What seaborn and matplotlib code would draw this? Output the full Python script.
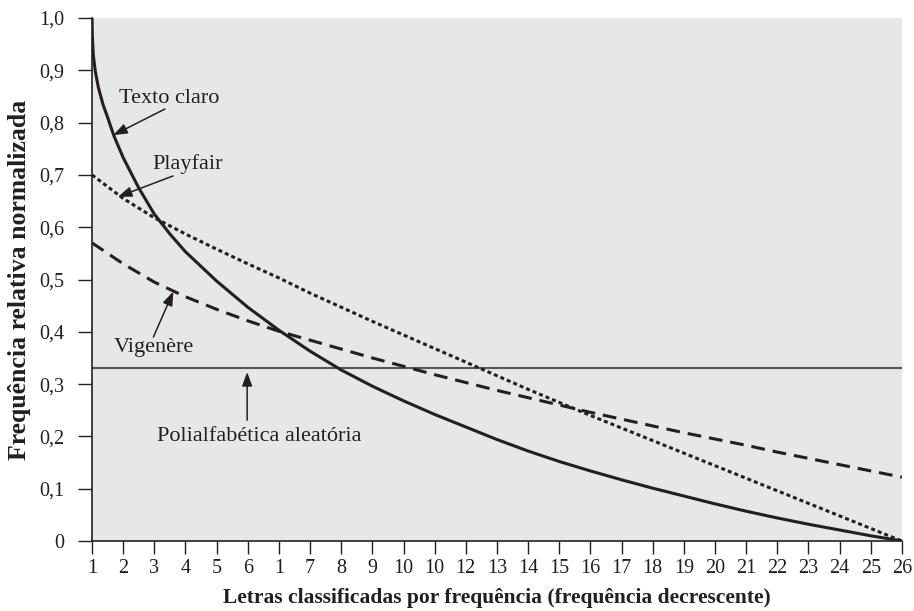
import matplotlib
matplotlib.use("Agg")
import matplotlib.pyplot as plt
import seaborn as sns

# tick slots along the x axis (labels copied as printed, typos included)
tick_labels = ["1", "2", "3", "4", "5", "6", "1", "7", "8", "9", "10", "10",
               "12", "13", "14", "15", "16", "17", "18", "19", "20", "21",
               "22", "23", "24", "25", "26"]
tick_pos = list(range(len(tick_labels)))

# Texto claro (solid) - extra points near the start where it falls steeply
plain_x = [0, 0.01, 0.04, 0.1, 0.2, 0.35, 0.5, 0.7, 1, 1.5, 2, 2.5, 3, 4, 5,
           6, 7, 8, 9, 10, 11, 12, 13, 14, 15, 16, 17, 18, 19, 20, 21, 22,
           23, 24, 25, 26]
plain_y = [1.0, 0.965, 0.93, 0.9, 0.868, 0.835, 0.81, 0.775, 0.733, 0.675,
           0.625, 0.587, 0.553, 0.497, 0.447, 0.403, 0.363, 0.327, 0.296,
           0.268, 0.242, 0.218, 0.194, 0.172, 0.152, 0.134, 0.117, 0.101,
           0.086, 0.071, 0.057, 0.044, 0.032, 0.021, 0.01, 0.0]

# Playfair (dotted)
playfair_y = [0.70, 0.655, 0.618, 0.587, 0.558, 0.530, 0.503, 0.474, 0.447,
              0.42, 0.394, 0.368, 0.342, 0.316, 0.29, 0.265, 0.24, 0.216,
              0.192, 0.168, 0.144, 0.12, 0.096, 0.072, 0.048, 0.024, 0.0]

# Vigenère (dashed)
vigenere_y = [0.57, 0.53, 0.495, 0.467, 0.443, 0.421, 0.401, 0.384, 0.367,
              0.35, 0.334, 0.318, 0.303, 0.288, 0.274, 0.26, 0.246, 0.233,
              0.22, 0.207, 0.195, 0.183, 0.17, 0.158, 0.146, 0.134, 0.122]

# Polialfabética aleatória (flat line)
random_level = 0.33

y_ticks = [0, 0.1, 0.2, 0.3, 0.4, 0.5, 0.6, 0.7, 0.8, 0.9, 1.0]
y_tick_labels = ["0", "0,1", "0,2", "0,3", "0,4", "0,5", "0,6", "0,7",
                 "0,8", "0,9", "1,0"]

ink = "#231f20"

sns.set_theme(style="ticks")
plt.rcParams["font.family"] = ["Liberation Serif", "DejaVu Serif"]

fig = plt.figure(figsize=(9.14, 6.11), dpi=100)
ax = fig.add_axes([0.1007, 0.1146, 0.886, 0.8559])
ax.set_facecolor("#e6e7e8")

ax.axhline(random_level, color="#58585a", lw=1.5, zorder=1)
sns.lineplot(x=plain_x, y=plain_y, ax=ax, color=ink, lw=2.2, zorder=3)
sns.lineplot(x=tick_pos, y=playfair_y, ax=ax, color=ink, lw=2.2,
             linestyle=(0, (1.3, 1.0)), zorder=3)
sns.lineplot(x=tick_pos, y=vigenere_y, ax=ax, color=ink, lw=2.2,
             linestyle=(0, (4.5, 2.6)), zorder=3)

ax.set_xlim(0, 26)
ax.set_ylim(0, 1.0)
ax.set_xticks(tick_pos)
ax.set_xticklabels(tick_labels)
ax.set_yticks(y_ticks)
ax.set_yticklabels(y_tick_labels)
ax.tick_params(axis="x", direction="out", length=9, width=1, color=ink,
               labelsize=14.5, pad=4, labelcolor=ink)
ax.tick_params(axis="y", direction="out", length=10, width=1, color=ink,
               labelsize=14.5, pad=10, labelcolor=ink)

for side in ["top", "right"]:
    ax.spines[side].set_visible(False)
for side in ["left", "bottom"]:
    ax.spines[side].set_color(ink)
    ax.spines[side].set_linewidth(1.2)

ax.set_xlabel("Letras classificadas por frequência (frequência decrescente)",
              fontsize=15.5, fontweight="bold", color=ink, labelpad=7)
ax.set_ylabel("Frequência relativa normalizada",
              fontsize=18.5, fontweight="bold", color=ink, labelpad=6)

arrow = dict(arrowstyle="-|>,head_length=0.6,head_width=0.22", color=ink,
             lw=1.1, mutation_scale=14, shrinkA=0, shrinkB=0)
note = dict(ha="center", va="center", fontsize=16, color=ink)
ax.annotate("Texto claro", xy=(2.47, 0.847), **note)
ax.annotate("", xy=(0.68, 0.776), xytext=(2.34, 0.826), arrowprops=arrow)
ax.annotate("Playfair", xy=(3.08, 0.72), **note)
ax.annotate("", xy=(0.83, 0.658), xytext=(2.6, 0.698), arrowprops=arrow)
ax.annotate("Vigenère", xy=(1.99, 0.37), **note)
ax.annotate("", xy=(2.61, 0.477), xytext=(1.97, 0.39), arrowprops=arrow)
ax.annotate("Polialfabética aleatória", xy=(5.36, 0.20), **note)
ax.annotate("", xy=(4.98, 0.323), xytext=(4.98, 0.231), arrowprops=arrow)

fig.savefig("out.png", dpi=100)
